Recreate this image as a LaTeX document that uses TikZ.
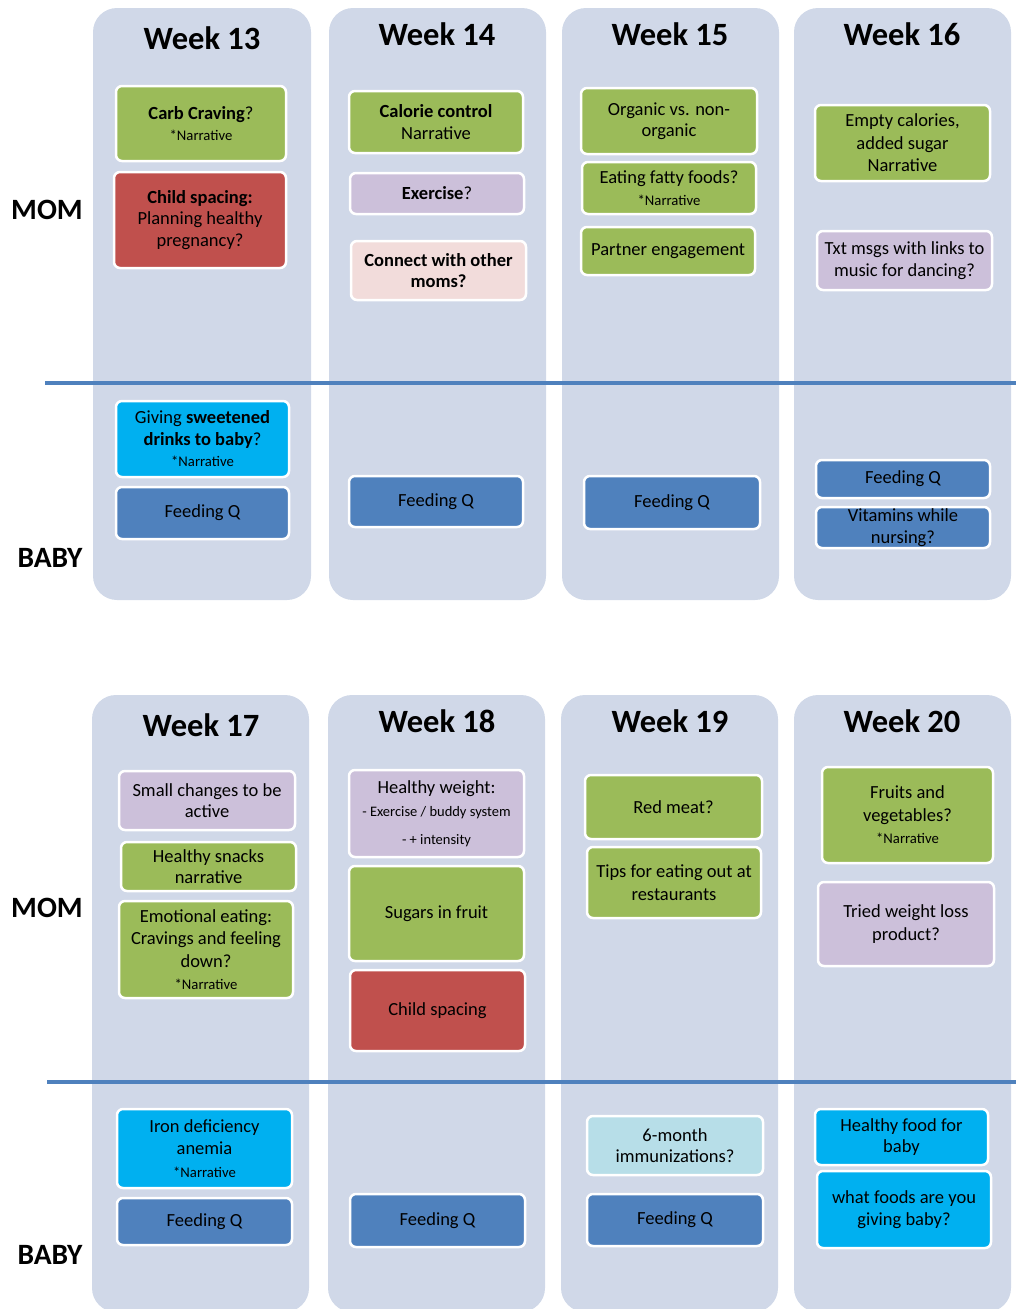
\documentclass[tikz,border=0pt]{standalone}
\usepackage{fontspec}
\setmainfont{Carlito}
\definecolor{colbg}{HTML}{D0D8E8}
\definecolor{cgreen}{HTML}{9BBB59}
\definecolor{cred}{HTML}{C0504D}
\definecolor{cpurple}{HTML}{CCC0DA}
\definecolor{cpink}{HTML}{F2DCDB}
\definecolor{ccyan}{HTML}{00B0F0}
\definecolor{cblue}{HTML}{4F81BD}
\definecolor{clight}{HTML}{B7DEE8}
\newcommand\smtxt{\fontsize{14.7}{17}\selectfont}
\newcommand\tinytxt{\fontsize{14.5}{16}\selectfont}
\begin{document}
\begin{tikzpicture}[x=1pt,y=-1pt,
  col/.style={fill=colbg, rounded corners=24pt},
  bx/.style={draw=white, line width=2.5pt, rounded corners=6pt, inner sep=0pt, align=center,
     font=\fontsize{18.5}{21.5}\selectfont, text=black},
  head/.style={font=\bfseries\fontsize{32.5}{36}\selectfont},
  side/.style={font=\bfseries\fontsize{29.5}{32}\selectfont},
  sep/.style={draw=cblue, line width=4pt}]
\useasboundingbox (0,0) rectangle (1016,1309);
% columns
\fill[col] (93,8) rectangle (311,600);
\fill[col] (329,8) rectangle (546,600);
\fill[col] (562,8) rectangle (779,600);
\fill[col] (794,8) rectangle (1011,600);
\fill[col] (92,695) rectangle (309,1312);
\fill[col] (328,695) rectangle (545,1312);
\fill[col] (561,695) rectangle (778,1312);
\fill[col] (794,695) rectangle (1011,1312);
% separator lines
\coordinate (s1a) at (45,383); \coordinate (s1b) at (1016,383);
\coordinate (s2a) at (47,1082); \coordinate (s2b) at (1016,1082);
\draw[sep] (s1a) -- (s1b);
\draw[sep] (s2a) -- (s2b);
% side labels
\node[side] (mom1) at (47,210) {MOM};
\node[side] (baby1) at (50,558) {BABY};
\node[side] (mom2) at (47,908) {MOM};
\node[side] (baby2) at (50,1255) {BABY};
% headings
\node[head] (w13) at (202,38) {Week 13};
\node[head] (w14) at (437,34) {Week 14};
\node[head] (w15) at (670,34) {Week 15};
\node[head] (w16) at (902,34) {Week 16};
\node[head] (w17) at (201,725) {Week 17};
\node[head] (w18) at (437,721) {Week 18};
\node[head] (w19) at (670,721) {Week 19};
\node[head] (w20) at (902,721) {Week 20};
% week 13 mom
\node[bx, fill=cgreen, minimum width=170, minimum height=75] (c13a) at (201,123.5) {\textbf{Carb Craving}?\\\smtxt *Narrative};
\node[bx, fill=cred, minimum width=172, minimum height=96] (c13b) at (200,220) {\textbf{Child spacing:}\\Planning healthy\\pregnancy?};
% week 14 mom
\node[bx, fill=cgreen, minimum width=174, minimum height=62] (c14a) at (436,122) {\textbf{Calorie control}\\Narrative};
\node[bx, fill=cpurple, minimum width=174, minimum height=41] (c14b) at (437,193.5) {\textbf{Exercise}?};
\node[bx, fill=cpink, minimum width=175, minimum height=59] (c14c) at (438.5,270.5) {\textbf{Connect with other}\\\textbf{moms?}};
% week 15 mom
\node[bx, fill=cgreen, minimum width=176, minimum height=66] (c15a) at (669,121) {Organic vs. non-\\organic};
\node[bx, fill=cgreen, minimum width=174, minimum height=52] (c15b) at (669,188) {Eating fatty foods?\\\smtxt *Narrative};
\node[bx, fill=cgreen, minimum width=174, minimum height=48] (c15c) at (668,251) {Partner engagement};
% week 16 mom
\node[bx, fill=cgreen, minimum width=175, minimum height=76, font=\fontsize{18.5}{22.5}\selectfont] (c16a) at (902.5,143) {Empty calories,\\added sugar\\Narrative};
\node[bx, fill=cpurple, minimum width=175, minimum height=59] (c16b) at (904.5,260.5) {Txt msgs with links to\\music for dancing?};
% baby top
\node[bx, fill=ccyan, minimum width=173, minimum height=76] (b13a) at (202.5,439) {Giving \textbf{sweetened}\\\textbf{drinks to baby}?\\\smtxt *Narrative};
\node[bx, fill=cblue, minimum width=173, minimum height=52] (b13b) at (202.5,513) {Feeding Q};
\node[bx, fill=cblue, minimum width=174, minimum height=51] (b14) at (436,501.5) {Feeding Q};
\node[bx, fill=cblue, minimum width=176, minimum height=53] (b15) at (672,502.5) {Feeding Q};
\node[bx, fill=cblue, minimum width=174, minimum height=38] (b16a) at (903,479) {Feeding Q};
\node[bx, fill=cblue, minimum width=174, minimum height=41] (b16b) at (903,527.5) {Vitamins while\\nursing?};
% week 17 mom
\node[bx, fill=cpurple, minimum width=176, minimum height=59] (d17a) at (207,800.5) {Small changes to be\\active};
\node[bx, fill=cgreen, minimum width=175, minimum height=49] (d17b) at (208.5,866.5) {Healthy snacks\\narrative};
\node[bx, fill=cgreen, minimum width=174, minimum height=97, font=\fontsize{18.5}{22.5}\selectfont] (d17c) at (206,949.5) {Emotional eating:\\Cravings and feeling\\down?\\\smtxt *Narrative};
% week 18 mom
\node[bx, fill=cpurple, minimum width=175, minimum height=87] (d18a) at (436.5,813.5) {Healthy weight:\\[2pt]\tinytxt - Exercise / buddy system\\[6pt]\tinytxt - + intensity};
\node[bx, fill=cgreen, minimum width=175, minimum height=95] (d18b) at (436.5,913.5) {Sugars in fruit};
\node[bx, fill=cred, minimum width=175, minimum height=81] (d18c) at (437.5,1010.5) {Child spacing};
% week 19 mom
\node[bx, fill=cgreen, minimum width=177, minimum height=64] (d19a) at (673.5,807) {Red meat?};
\node[bx, fill=cgreen, minimum width=174, minimum height=71, font=\fontsize{18.5}{23}\selectfont] (d19b) at (674,882.5) {Tips for eating out at\\restaurants};
% week 20 mom
\node[bx, fill=cgreen, minimum width=171, minimum height=96, font=\fontsize{18.5}{22.5}\selectfont] (d20a) at (907.5,815) {Fruits and\\vegetables?\\\smtxt *Narrative};
\node[bx, fill=cpurple, minimum width=176, minimum height=84, font=\fontsize{18.5}{23}\selectfont] (d20b) at (906,924) {Tried weight loss\\product?};
% baby bottom
\node[bx, fill=ccyan, minimum width=175, minimum height=79, font=\fontsize{18.5}{22.5}\selectfont] (e17a) at (204.5,1148.5) {Iron deficiency\\anemia\\\smtxt *Narrative};
\node[bx, fill=cblue, minimum width=175, minimum height=47] (e17b) at (204.5,1221.5) {Feeding Q};
\node[bx, fill=cblue, minimum width=175, minimum height=53] (e18) at (437.5,1220.5) {Feeding Q};
\node[bx, fill=clight, minimum width=176, minimum height=59] (e19a) at (675,1145.5) {6-month\\immunizations?};
\node[bx, fill=cblue, minimum width=176, minimum height=52] (e19b) at (675,1220) {Feeding Q};
\node[bx, fill=ccyan, minimum width=173, minimum height=56] (e20a) at (901.5,1137) {Healthy food for\\baby};
\node[bx, fill=ccyan, minimum width=174, minimum height=77] (e20b) at (904,1209.5) {what foods are you\\giving baby?};
\end{tikzpicture}
\end{document}
